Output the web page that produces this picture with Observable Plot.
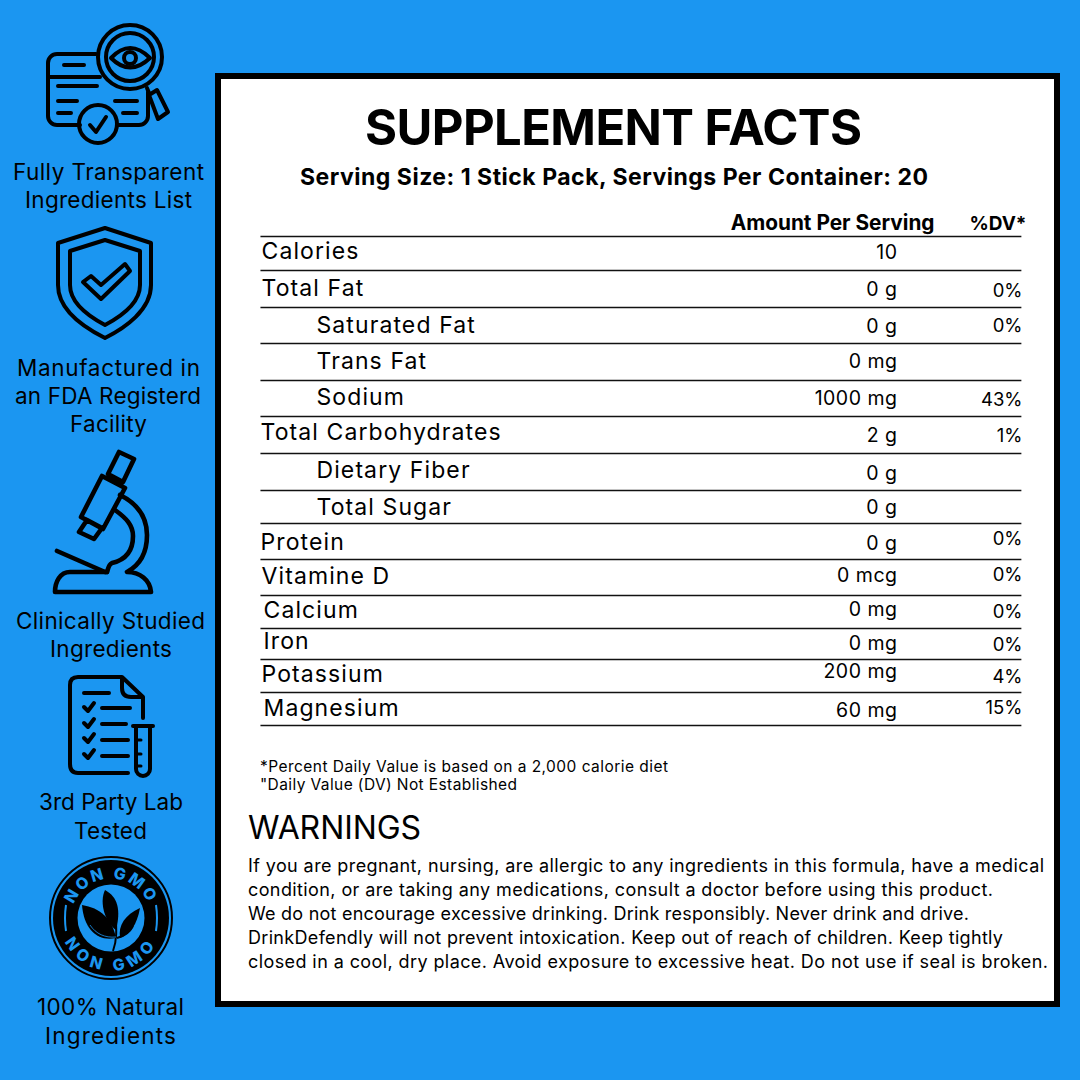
<!DOCTYPE html>
<html>
<head>
<meta charset="utf-8">
<script src="https://cdn.jsdelivr.net/npm/d3@7"></script>
<script src="https://cdn.jsdelivr.net/npm/@observablehq/plot@0.6"></script>
<style>
html,body{margin:0;padding:0;width:1080px;height:1080px;background:#1b96f1;overflow:hidden}
body{position:relative;font-family:Inter,"Noto Sans",sans-serif;color:#000}
#card{position:absolute;left:215px;top:73px;width:833px;height:922px;background:#fff;border:6px solid #000}
#plot,#icons{position:absolute;left:0;top:0}
.ln{position:absolute;white-space:nowrap;line-height:1;transform:translateY(-50%)}
.rowname text{letter-spacing:1.1px}
.amount text{letter-spacing:.5px}
.pct text{letter-spacing:0}
</style>
</head>
<body>
<div id="card"></div>
<div id="plot"></div>
<svg id="icons" width="1080" height="1080" viewBox="0 0 1080 1080" xmlns="http://www.w3.org/2000/svg">
  <defs>
    <path id="arcTop" d="M74.1,934 A40,40 0 1 1 147.9,934"/>
    <path id="arcBot" d="M64,900 A51,51 0 1 0 158,900"/>
  </defs>
  <g fill="none" stroke="#000" stroke-width="4" stroke-linecap="round" stroke-linejoin="round">
    <!-- transparency card -->
    <path d="M96,54 H57 a9,9 0 0 0 -9,9 V116 a9,9 0 0 0 9,9 H80 M117,125 H139 a9,9 0 0 0 9,-9 V92 M48,77 H100"/>
    <path d="M64,65 H84 M58,86 H97 M58,101 H77 M115,101 H137 M58,113 H71 M123,113 H137"/>
    <circle cx="130" cy="57" r="32"/><circle cx="130" cy="57" r="24"/>
    <path d="M111,58 Q130,38 150,58 Q130,77 111,58 Z"/><circle cx="130" cy="58" r="6"/>
    <path d="M147,88 L149,93 M149,95 L157,90 L168,112 L158,119 Z"/>
    <circle cx="98" cy="124" r="19"/><path d="M90,125 L96,132 L106,117"/>
    <!-- shield -->
    <path d="M105,228 L151,243 V285 C151,310 125,328 105,338 C85,328 58,310 58,285 V243 Z"/>
    <path d="M105,240 L140,251 V285 C140,302 122,316 105,325 C88,316 70,302 70,285 V251 Z"/>
    <path d="M83,282 L91,276 L101,285 L125,264 L130,271 L101,299 Z"/>
    <!-- microscope -->
    <g stroke-width="4.6">
    <path d="M119,452 L134,459 L123,482 L108,474 Z M102,476 L125,488 L103,529 L81,517 Z M87,520 L102,528 L94,539 L79,532 Z"/>
    <path d="M120,495 C140,505 147,520 147,535 C147,552 140,565 127,572 C140,572 150,580 151,592 H55 C55,582 60,572 70,572 H107"/>
    <path d="M115,510 C126,518 133,525 133,536 C133,552 125,560 112,563 C108,565 108,570 107,572 M57,551 L105,572"/>
    </g>
    <!-- lab report -->
    <path d="M143,718 V697 L122,677 H78 Q70,677 70,685 V764 Q70,773 78,773 H128 M122,678 V688 Q122,697 131,697 H143"/>
    <path d="M84,693 H109 M102,708 H130 M102,724 H126 M102,740 H128 M102,756 H128"/>
    <path d="M84,707 L88,711 L94,703 M84,723 L88,727 L94,719 M84,738 L88,742 L94,734 M84,754 L88,758 L94,750"/>
    <path d="M133,726 H153 M136,726 V769 A7,7 0 0 0 150,769 V726"/>
    <path d="M137,740 H141 M137,754 H141 M137,766 H141" stroke-width="3"/>
  </g>
  <!-- non-GMO seal -->
  <circle cx="111" cy="918" r="61" fill="none" stroke="#000" stroke-width="2"/>
  <circle cx="111" cy="918" r="58" fill="#000"/>
  <circle cx="111" cy="918" r="33.5" fill="#1b96f1"/>
  <path d="M66,905 Q64,918 66,931 M156,905 Q158,918 156,931" fill="none" stroke="#1b96f1" stroke-width="2"/>
  <text font-family="Inter,sans-serif" font-weight="800" font-size="16" fill="#1b96f1" letter-spacing="2.4" text-anchor="middle"><textPath href="#arcTop" startOffset="50%">NON GMO</textPath></text>
  <text font-family="Inter,sans-serif" font-weight="800" font-size="16" fill="#1b96f1" letter-spacing="5" text-anchor="middle"><textPath href="#arcBot" startOffset="50%">NON GMO</textPath></text>
  <g fill="#000">
    <path d="M105,890 C118,897 121,910 116,930 C105,922 99,903 105,890 Z"/>
    <path d="M82,905 C100,908 112,918 116,938 C98,942 84,930 82,905 Z"/>
    <path d="M140,908 C137,925 130,934 120,938 C118,925 125,915 140,908 Z"/>
  </g>
  <path d="M113,951 C118,938 116,925 115,905 M117,938 C125,936 130,932 133,926" fill="none" stroke="#000" stroke-width="2"/>
  <path d="M116,937 C105,938 96,934 90,925" fill="none" stroke="#1b96f1" stroke-width=".8"/>
</svg>
<script>
// ---- table data ----
const rowNames = ["Calories","Total Fat","Saturated Fat","Trans Fat","Sodium","Total Carbohydrates","Dietary Fiber","Total Sugar","Protein","Vitamine D","Calcium","Iron","Potassium","Magnesium"];
const amounts  = ["10","0 g","0 g","0 mg","1000 mg","2 g","0 g","0 g","0 g","0 mcg","0 mg","0 mg","200 mg","60 mg"];
const dailyValues = ["","0%","0%","","43%","1%","","","0%","0%","0%","0%","4%","15%"];
const subRows  = ["Saturated Fat","Trans Fat","Sodium","Dietary Fiber","Total Sugar"];
const headers  = ["Amount Per Serving","%DV*"];

// ---- other text ----
const title = "SUPPLEMENT FACTS";
const serving = "Serving Size: 1 Stick Pack, Servings Per Container: 20";
const footnotes = ["*Percent Daily Value is based on a 2,000 calorie diet","\"Daily Value (DV) Not Established"];
const warningsTitle = "WARNINGS";
const warnings = [
  "If you are pregnant, nursing, are allergic to any ingredients in this formula, have a medical",
  "condition, or are taking any medications, consult a doctor before using this product.",
  "We do not encourage excessive drinking. Drink responsibly. Never drink and drive.",
  "DrinkDefendly will not prevent intoxication. Keep out of reach of children. Keep tightly",
  "closed in a cool, dry place. Avoid exposure to excessive heat. Do not use if seal is broken."
];
const captions = ["Fully Transparent","Ingredients List","Manufactured in","an FDA Registerd","Facility","Clinically Studied","Ingredients","3rd Party Lab","Tested","100% Natural","Ingredients"];

// ---- layout, kept apart from the data ----
const ruleOffsets = [210,236,270,307,343,380,416,453,490,523,559,595,628,659,692,725];
const columnStops = [261,316,897,1022];
// hand-set nudges (px) of each row's label, amount and %DV, since the original is not perfectly aligned
const nudgeName   = [-2,0,0,0,-1,-2,-1,1,1,-1,-1,-2,-1,0];
const nudgeAmount = [-1,1,1,0,0,1,2,1,2,-2,-2,0,-4,2];
const nudgeDv     = [0,2,1,0,2,1,0,0,-2,-2,0,1,1,-1];
const shiftName   = [0,0,0,0,0,-1,0,0,-1,0,2,2,0,2];
const captionBoxes = [[13,204,172],[25,192,200],[17,200,368],[15,201,396],[70,147,424],[16,205,621],[50,172,649],[39,183,802],[74,147,831],[37,184,1007],[45,176,1036]];
const warningBoxes = [[248,1044,866],[248,993,890],[248,969,914],[248,1003,938],[248,1048,962]];
const footBoxes = [[260,668,767],[260,517,785]];

const rowCentre = (i,n)=>i+.5+n/(ruleOffsets[i+2]-ruleOffsets[i+1]);
const rows = rowNames.map((name,i)=>({
  name,amount:amounts[i],dv:dailyValues[i],
  col:(subRows.includes(name)?1:0)+shiftName[i]/(columnStops[1]-columnStops[0]),
  nameRow:rowCentre(i,nudgeName[i]),amountRow:rowCentre(i,nudgeAmount[i]),dvRow:rowCentre(i,nudgeDv[i])
}));

const chart = Plot.plot({
  width:1080,height:1080,margin:0,
  style:{background:"transparent",fontFamily:"Inter,sans-serif",color:"#000"},
  x:{type:"linear",domain:[0,1,2,3],range:columnStops,axis:null},
  y:{type:"linear",domain:d3.range(-1,15),range:ruleOffsets,axis:null},
  marks:[
    Plot.ruleY(d3.range(0,15),{y:d=>d,x1:-.01,x2:2.995,stroke:"#111",strokeWidth:1.3}),
    Plot.text(rows,{x:"col",y:"nameRow",text:"name",textAnchor:"start",fontSize:23,fontWeight:400,fill:"#000",className:"rowname"}),
    Plot.text(rows,{x:()=>2,y:"amountRow",text:"amount",textAnchor:"end",fontSize:19.5,fontWeight:400,fill:"#000",className:"amount"}),
    Plot.text(rows,{x:()=>3,y:"dvRow",text:"dv",textAnchor:"end",fontSize:18.5,fontWeight:400,fill:"#000",className:"pct"}),
    Plot.text([headers[0]],{x:()=>2,dx:37,y:()=>-.5,text:d=>d,textAnchor:"end",fontSize:20.8,fontWeight:700,fill:"#000",className:"pct"}),
    Plot.text([headers[1]],{x:()=>3,dx:4,y:()=>-.5,text:d=>d,textAnchor:"end",fontSize:19,fontWeight:700,fill:"#000",className:"pct"})
  ]
});
document.getElementById("plot").append(chart);

// place a line of HTML text so it spans x1..x2, centred vertically on cy
function put(str,x1,x2,cy,size,weight){
  const s=document.createElement("div");
  s.className="ln";s.textContent=str;
  s.style.cssText=`left:${x1}px;top:${cy}px;font-size:${size}px;font-weight:${weight}`;
  document.body.append(s);
  const w=s.getBoundingClientRect().width;
  s.style.letterSpacing=((x2-x1-w)/Math.max(1,str.length-1))+"px";
}
put(title,365,862,127,49,700);
put(serving,300,928,177,23,700);
footnotes.forEach((t,i)=>put(t,...footBoxes[i],15.5,400));
put(warningsTitle,248,421,828,32,400);
warnings.forEach((t,i)=>put(t,...warningBoxes[i],18,400));
captions.forEach((t,i)=>put(t,...captionBoxes[i],22.5,400));
</script>
</body>
</html>
